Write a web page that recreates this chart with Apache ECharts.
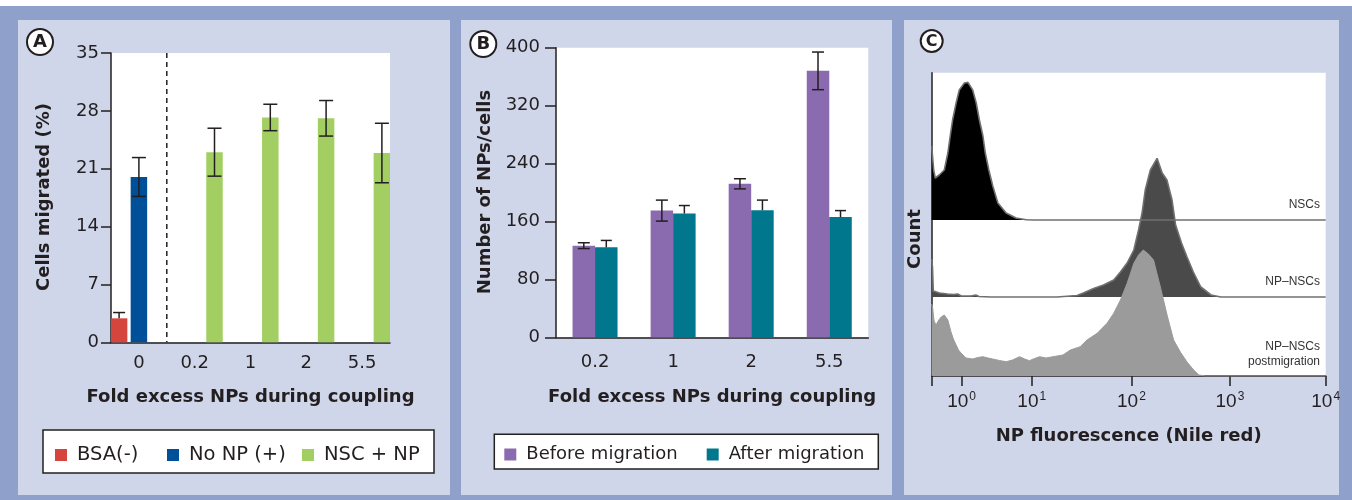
<!DOCTYPE html>
<html><head><meta charset="utf-8">
<script src="https://cdn.jsdelivr.net/npm/echarts@6/dist/echarts.min.js"></script>
<style>html,body{margin:0;padding:0;background:#fff}#c{width:1352px;height:500px}</style>
</head><body><div id="c"></div>
<script>
// ---------- Panel A data ----------
const catA = ['0', '0.2', '1', '2', '5.5'];
const bsaMean = [2.9, null, null, null, null];
const bsaErr = [0.7, null, null, null, null];
const noNpMean = [20.0, null, null, null, null];
const noNpErr = [2.35, null, null, null, null];
const nscMean = [null, 23.0, 27.2, 27.1, 22.9];
const nscErr = [null, 2.9, 1.6, 2.15, 3.6];
const ticksA = [0, 7, 14, 21, 28, 35];

// ---------- Panel B data ----------
const catB = ['0.2', '1', '2', '5.5'];
const beforeMean = [126.6, 175, 212, 368];
const beforeErr = [4, 14.5, 7, 26];
const afterMean = [124.3, 171, 175.5, 166];
const afterErr = [9.5, 11, 14, 9];
const ticksB = [0, 80, 160, 240, 320, 400];

// ---------- Panel C data (fluorescence channel 0..1000, counts) ----------
const decadeChannels = [76, 254, 507, 757, 1000];
const decadeExponents = ['0', '1', '2', '3', '4'];
const nscsCh = [0, 2.5, 5, 9, 19, 32, 41, 47, 53, 62, 70, 83, 92, 104, 113, 121, 130, 136, 145, 155, 168, 189, 214, 240, 260, 1000];
const nscsCount = [74, 73.6, 50, 42, 45, 50, 67, 84, 100, 117, 130, 137, 137.6, 130, 117, 100, 84, 67, 50, 34, 17, 7, 2, 0.3, 0, 0];
const npCh = [0, 2, 4, 8, 20, 40, 55, 66, 75, 100, 112, 120, 150, 318, 369, 385, 411, 436, 462, 479, 496, 513, 525, 534, 542, 555, 572, 585, 597, 610, 619, 634, 648, 664, 683, 709, 734, 1000];
const npCount = [38, 30, 6, 4, 4, 3, 2.5, 3, 1, 1, 2, 0.5, 0, 0, 1.5, 4, 8.5, 12, 17, 25, 34, 47, 67, 84, 107, 127, 138.7, 124, 117, 97, 72, 54, 40, 25, 10, 2, 0, 0];
const postCh = [0, 2.5, 6, 11, 18, 24, 32, 41, 49, 55, 62, 68, 75, 87, 104, 117, 130, 143, 155, 172, 189, 205, 223, 236, 248, 261, 274, 290, 308, 333, 352, 377, 394, 420, 445, 462, 479, 496, 513, 525, 537, 550, 563, 581, 598, 614, 631, 648, 665, 678, 695, 1000];
const postCount = [72, 68, 55, 51, 56, 59, 61, 56, 44, 37, 31, 26, 22.7, 18, 17, 18.5, 19.3, 18, 17, 15.5, 14.3, 16, 19.3, 17, 15.3, 17.5, 19.3, 18, 19.3, 21, 26, 29.3, 36, 42.7, 52.7, 62.7, 76, 92.7, 112.7, 121, 126, 122, 116, 88, 60, 36, 24, 14, 6, 1, 0, 0];

// ---------- styling ----------
const INK = '#231f20';
const FONT = 'DejaVu Sans';
const C_RED = '#d5453d', C_BLUE = '#004f99', C_GREEN = '#a3cf62';
const C_PURPLE = '#8b6bb0', C_TEAL = '#00778d';
const baseN = 156, baseNP = 79, basePost = 0; // stacking offsets of the three histograms

function errData(means, errs) {
  const out = [];
  means.forEach((m, i) => { if (m != null) out.push([i, m, errs[i]]); });
  return out;
}
function errSeries(gridIdx, means, errs, offset, cap, upperOnly) {
  return {
    type: 'custom', xAxisIndex: gridIdx, yAxisIndex: gridIdx, silent: true, z: 5,
    data: errData(means, errs),
    renderItem: function (params, api) {
      const i = api.value(0), m = api.value(1), e = api.value(2);
      const top = api.coord([i, m + e]);
      const bot = api.coord([i, upperOnly ? m : m - e]);
      const x = top[0] + offset, h = cap / 2;
      const st = { stroke: INK, lineWidth: 1.5 };
      const ch = [
        { type: 'line', shape: { x1: x, y1: top[1], x2: x, y2: bot[1] }, style: st },
        { type: 'line', shape: { x1: x - h, y1: top[1], x2: x + h, y2: top[1] }, style: st }
      ];
      if (!upperOnly) ch.push({ type: 'line', shape: { x1: x - h, y1: bot[1], x2: x + h, y2: bot[1] }, style: st });
      return { type: 'group', children: ch };
    }
  };
}
function hist(ch, counts, base) { return ch.map((c, i) => [c, base + counts[i]]); }

const axisLineStyle = { color: INK, width: 1.5 };
const tickLabel = { color: INK, fontSize: 18, fontFamily: FONT };
const nameStyle = { color: INK, fontSize: 18, fontWeight: 'bold', fontFamily: FONT };

const barWA = 16.5, gapA = 0.2, stepA = barWA * (1 + gapA);
const barWB = 22.5, stepB = barWB;

function legendItem(name, left, top, size) {
  return {
    data: [name], left: left, top: top, padding: 0, icon: 'rect', itemWidth: 12, itemHeight: 12,
    selectedMode: false,
    textStyle: { color: INK, fontSize: size, fontFamily: FONT, padding: [0, 0, 0, 5] }
  };
}

const graphics = [
  { id: 'topstrip', type: 'rect', z: -10, shape: { x: 0, y: 0, width: 1352, height: 6 }, style: { fill: '#ffffff' } },
  { id: 'pA', type: 'rect', z: -10, shape: { x: 18, y: 20, width: 432, height: 475 }, style: { fill: '#cfd6ea' } },
  { id: 'pB', type: 'rect', z: -10, shape: { x: 461, y: 20, width: 431, height: 475 }, style: { fill: '#cfd6ea' } },
  { id: 'pC', type: 'rect', z: -10, shape: { x: 904, y: 20, width: 435, height: 475 }, style: { fill: '#cfd6ea' } },
  { id: 'lgA', type: 'rect', z: -5, shape: { x: 43, y: 430, width: 391, height: 43 }, style: { fill: '#fff', stroke: INK, lineWidth: 1.5 } },
  { id: 'lgB', type: 'rect', z: -5, shape: { x: 494.3, y: 434.3, width: 384, height: 34.7 }, style: { fill: '#fff', stroke: INK, lineWidth: 1.5 } },
  { id: 'cA', type: 'circle', z: 10, shape: { cx: 40, cy: 42, r: 13 }, style: { fill: '#fff', stroke: INK, lineWidth: 2 } },
  { id: 'tA', type: 'text', z: 11, x: 40, y: 42.5, style: { text: 'A', fill: INK, font: 'bold 18px "DejaVu Sans"', textAlign: 'center', textVerticalAlign: 'middle' } },
  { id: 'cB', type: 'circle', z: 10, shape: { cx: 483.3, cy: 44, r: 13 }, style: { fill: '#fff', stroke: INK, lineWidth: 2 } },
  { id: 'tB', type: 'text', z: 11, x: 483.3, y: 44.5, style: { text: 'B', fill: INK, font: 'bold 18px "DejaVu Sans"', textAlign: 'center', textVerticalAlign: 'middle' } },
  { id: 'cC', type: 'circle', z: 10, shape: { cx: 931.7, cy: 41, r: 11 }, style: { fill: '#fff', stroke: INK, lineWidth: 2 } },
  { id: 'tC', type: 'text', z: 11, x: 931.7, y: 41.5, style: { text: 'C', fill: INK, font: 'bold 16px "DejaVu Sans"', textAlign: 'center', textVerticalAlign: 'middle' } },
  { id: 'yA', type: 'text', z: 10, x: 44, y: 197, rotation: Math.PI / 2, style: { text: 'Cells migrated (%)', fill: INK, font: 'bold 18px "DejaVu Sans"', textAlign: 'center', textVerticalAlign: 'middle' } },
  { id: 'yB', type: 'text', z: 10, x: 485, y: 192, rotation: Math.PI / 2, style: { text: 'Number of NPs/cells', fill: INK, font: 'bold 18px "DejaVu Sans"', textAlign: 'center', textVerticalAlign: 'middle' } },
  { id: 'yC', type: 'text', z: 10, x: 915, y: 239, rotation: Math.PI / 2, style: { text: 'Count', fill: INK, font: 'bold 18px "DejaVu Sans"', textAlign: 'center', textVerticalAlign: 'middle' } },
  { id: 'l1', type: 'text', z: 10, x: 1320, y: 205, style: { text: 'NSCs', fill: '#333', font: '12px "Liberation Sans"', textAlign: 'right', textVerticalAlign: 'middle' } },
  { id: 'l2', type: 'text', z: 10, x: 1320, y: 282, style: { text: 'NP\u2013NSCs', fill: '#333', font: '12px "Liberation Sans"', textAlign: 'right', textVerticalAlign: 'middle' } },
  { id: 'l3', type: 'text', z: 10, x: 1320, y: 346.5, style: { text: 'NP\u2013NSCs', fill: '#333', font: '12px "Liberation Sans"', textAlign: 'right', textVerticalAlign: 'middle' } },
  { id: 'l4', type: 'text', z: 10, x: 1320, y: 362, style: { text: 'postmigration', fill: '#333', font: '12px "Liberation Sans"', textAlign: 'right', textVerticalAlign: 'middle' } }
];

const option = {
  backgroundColor: '#8fa0cb',
  animation: false,
  textStyle: { fontFamily: FONT },
  grid: [
    { left: 111, top: 53, width: 279, height: 289.3, show: true, backgroundColor: '#fff', borderWidth: 0 },
    { left: 556, top: 47.7, width: 312.3, height: 289.6, show: true, backgroundColor: '#fff', borderWidth: 0 },
    { left: 931.7, top: 72.7, width: 394, height: 303.3, show: true, backgroundColor: '#fff', borderWidth: 0 }
  ],
  xAxis: [
    { gridIndex: 0, type: 'category', data: catA,
      axisLine: { lineStyle: axisLineStyle }, axisTick: { length: 10, lineStyle: axisLineStyle },
      axisLabel: Object.assign({ margin: 12 }, tickLabel),
      name: 'Fold excess NPs during coupling', nameLocation: 'middle', nameGap: 46, nameTextStyle: nameStyle },
    { gridIndex: 1, type: 'category', data: catB,
      axisLine: { lineStyle: axisLineStyle }, axisTick: { length: 11, lineStyle: axisLineStyle },
      axisLabel: Object.assign({ margin: 16 }, tickLabel),
      name: 'Fold excess NPs during coupling', nameLocation: 'middle', nameGap: 51, nameTextStyle: nameStyle },
    { gridIndex: 2, type: 'value', min: 0, max: 1000,
      axisLine: { lineStyle: axisLineStyle },
      axisTick: { length: 10, lineStyle: axisLineStyle, customValues: [0].concat(decadeChannels) },
      axisLabel: {
        customValues: decadeChannels, margin: 15,
        formatter: function (v) { const i = decadeChannels.indexOf(v); return '{b|10}{s|' + decadeExponents[i] + '}'; },
        rich: {
          b: { fontSize: 19, lineHeight: 22, fontFamily: 'Liberation Sans', color: INK },
          s: { fontSize: 12, lineHeight: 12, fontFamily: 'Liberation Sans', color: INK, verticalAlign: 'top', padding: [0, 0, 0, 1] }
        }
      },
      splitLine: { show: false },
      name: 'NP fluorescence (Nile red)', nameLocation: 'middle', nameGap: 51, nameTextStyle: nameStyle }
  ],
  yAxis: [
    { gridIndex: 0, type: 'value', min: ticksA[0], max: ticksA[ticksA.length - 1], interval: ticksA[1] - ticksA[0],
      axisLine: { show: true, lineStyle: axisLineStyle }, axisTick: { show: true, length: 10, lineStyle: axisLineStyle },
      axisLabel: Object.assign({ margin: 12 }, tickLabel), splitLine: { show: false } },
    { gridIndex: 1, type: 'value', min: ticksB[0], max: ticksB[ticksB.length - 1], interval: ticksB[1] - ticksB[0],
      axisLine: { show: true, lineStyle: axisLineStyle }, axisTick: { show: true, length: 11, lineStyle: axisLineStyle },
      axisLabel: Object.assign({ margin: 16 }, tickLabel), splitLine: { show: false } },
    { gridIndex: 2, type: 'value', min: 0, max: 303.3,
      axisLine: { show: true, lineStyle: axisLineStyle }, axisTick: { show: false }, axisLabel: { show: false },
      splitLine: { show: false } }
  ],
  legend: [
    legendItem('BSA(-)', 55, 445, 19.5),
    legendItem('No NP (+)', 167, 445, 19.5),
    legendItem('NSC + NP', 302, 445, 19.5),
    legendItem('Before migration', 504.3, 445.5, 18),
    legendItem('After migration', 706.7, 445.5, 18)
  ],
  series: [
    { name: 'BSA(-)', type: 'bar', xAxisIndex: 0, yAxisIndex: 0, data: bsaMean, barWidth: barWA, barGap: '20%', itemStyle: { color: C_RED } },
    { name: 'No NP (+)', type: 'bar', xAxisIndex: 0, yAxisIndex: 0, data: noNpMean, barWidth: barWA, barGap: '20%', itemStyle: { color: C_BLUE } },
    { name: 'NSC + NP', type: 'bar', xAxisIndex: 0, yAxisIndex: 0, data: nscMean, barWidth: barWA, barGap: '20%', itemStyle: { color: C_GREEN } },
    errSeries(0, bsaMean, bsaErr, -stepA, 12, true),
    errSeries(0, noNpMean, noNpErr, 0, 14, false),
    errSeries(0, nscMean, nscErr, stepA, 14, false),

    { name: 'Before migration', type: 'bar', xAxisIndex: 1, yAxisIndex: 1, data: beforeMean, barWidth: barWB, barGap: '0%', itemStyle: { color: C_PURPLE } },
    { name: 'After migration', type: 'bar', xAxisIndex: 1, yAxisIndex: 1, data: afterMean, barWidth: barWB, barGap: '0%', itemStyle: { color: C_TEAL } },
    errSeries(1, beforeMean, beforeErr, -stepB / 2, 12, false),
    errSeries(1, afterMean, afterErr, stepB / 2, 11, true),

    { name: 'NSCs', type: 'line', xAxisIndex: 2, yAxisIndex: 2, data: hist(nscsCh, nscsCount, baseN),
      symbol: 'none', silent: true, lineStyle: { color: '#707070', width: 1.6 },
      areaStyle: { color: '#000000', opacity: 1, origin: baseN } },
    { name: 'NP-NSCs', type: 'line', xAxisIndex: 2, yAxisIndex: 2, data: hist(npCh, npCount, baseNP),
      symbol: 'none', silent: true, lineStyle: { color: '#707070', width: 1.6 },
      areaStyle: { color: '#4a4a4a', opacity: 1, origin: baseNP } },
    { name: 'NP-NSCs postmigration', type: 'line', xAxisIndex: 2, yAxisIndex: 2, data: hist(postCh, postCount, basePost),
      symbol: 'none', silent: true, lineStyle: { color: '#9b9b9b', width: 1 },
      areaStyle: { color: '#9b9b9b', opacity: 1, origin: basePost } }
  ],
  graphic: graphics
};

const chart = echarts.init(document.getElementById('c'));
chart.setOption(option);

// dashed separator between the control category and the NSC+NP categories
const x0 = chart.convertToPixel({ xAxisIndex: 0 }, 0);
const x1 = chart.convertToPixel({ xAxisIndex: 0 }, 1);
const yTop = chart.convertToPixel({ yAxisIndex: 0 }, ticksA[ticksA.length - 1]);
const yBot = chart.convertToPixel({ yAxisIndex: 0 }, 0);
chart.setOption({ graphic: graphics.concat([
  { id: 'dash', type: 'line', z: 50, shape: { x1: (x0 + x1) / 2, y1: yTop, x2: (x0 + x1) / 2, y2: yBot },
    style: { stroke: INK, lineWidth: 1.5, lineDash: [5, 4] } }
]) });
</script>
</body></html>
